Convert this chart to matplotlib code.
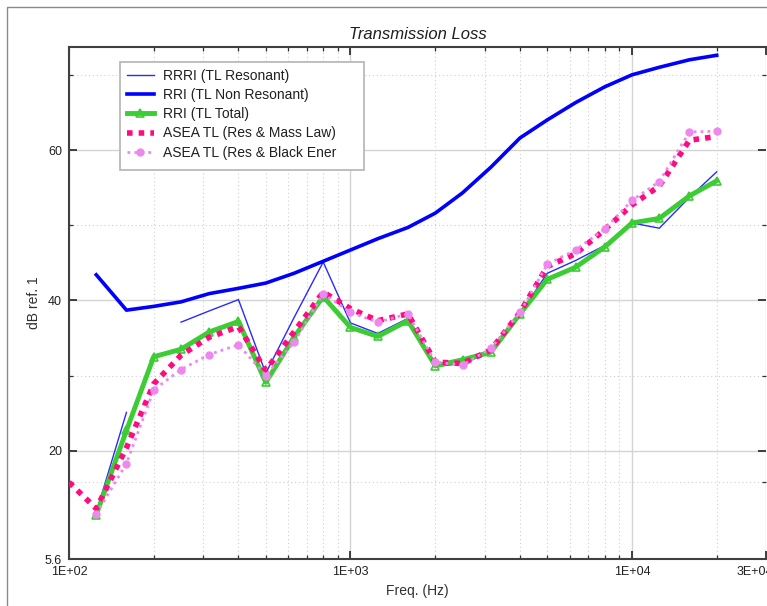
import numpy as np
import matplotlib
matplotlib.use("Agg")
import matplotlib.pyplot as plt
from matplotlib.patches import Rectangle
from matplotlib.ticker import FixedLocator, NullFormatter, FixedFormatter
from matplotlib.transforms import ScaledTranslation

plt.rcParams['font.family'] = ['Liberation Sans', 'DejaVu Sans']

# One-third octave band centre frequencies (Hz)
freq = [100, 125, 160, 200, 250, 315, 400, 500, 630, 800, 1000, 1250, 1600,
        2000, 2500, 3150, 4000, 5000, 6300, 8000, 10000, 12500, 16000, 20000]

nan = np.nan
rrri_resonant = [nan, 11.8, 25.1, nan, 37.1, 38.6, 40.1, 30.3, 37.7, 45.1, 37.0, 35.6,
                 37.6, 31.2, 31.6, 33.1, 38.2, 43.6, 45.3, 47.3, 50.3, 49.6, 53.7, 57.1]
rri_non_resonant = [nan, 43.4, 38.7, 39.2, 39.8, 40.9, 41.6, 42.3, 43.6, 45.2, 46.7, 48.2,
                    49.7, 51.6, 54.3, 57.7, 61.6, 64.0, 66.3, 68.4, 70.0, 71.0, 72.0, 72.6]
rri_total = [nan, 11.5, 22.7, 32.5, 33.5, 35.8, 37.2, 29.1, 35.1, 40.5, 36.4, 35.2,
             37.3, 31.3, 32.1, 33.1, 38.2, 42.8, 44.4, 47.1, 50.3, 50.9, 53.9, 55.9]
asea_mass_law = [15.8, 12.3, 20.4, 28.9, 32.7, 35.1, 36.5, 30.7, 35.8, 41.1, 38.9, 37.3,
                 38.2, 31.8, 31.6, 33.4, 38.4, 44.5, 46.2, 49.4, 52.7, 55.2, 61.3, 61.8]
asea_black_ener = [nan, 11.6, 18.3, 28.1, 30.8, 32.8, 34.1, 30.0, 34.4, 40.9, 38.4, 37.1,
                   38.2, 31.8, 31.4, 33.6, 38.4, 44.8, 46.7, 49.5, 53.3, 55.8, 62.4, 62.5]

series_labels = ["RRRI (TL Resonant)", "RRI (TL Non Resonant)", "RRI (TL Total)",
                 "ASEA TL (Res & Mass Law)", "ASEA TL (Res & Black Ener"]

x_major = [100, 1000, 10000, 30000]
x_major_labels = ["1E+02", "1E+03", "1E+04", "3E+04"]
y_major = [5.6, 20, 40, 60]
y_major_labels = ["5.6", "20", "40", "60"]
y_minor = [15.9, 30, 50, 70]

W, H = 767, 606
fig = plt.figure(figsize=(W / 100, H / 100), dpi=100)
fig.patch.set_facecolor("white")

# outer panel frame
fig.add_artist(Rectangle((7 / W, -0.05), 1.2, 1 - 7 / H + 0.05, transform=fig.transFigure,
                         fill=False, edgecolor="#8a8a8a", linewidth=1.0))

ax_l, ax_r, ax_t, ax_b = 69, 766.3, 47, 559
ax = fig.add_axes([ax_l / W, (H - ax_b) / H, (ax_r - ax_l) / W, (ax_b - ax_t) / H])
ax.set_xscale("log")
ax.set_xlim(100, 30000)
ax.set_ylim(5.6, 73.7)

ax.plot(freq, rrri_resonant, color="#2a2aff", lw=1.0, label=series_labels[0], zorder=3)
ax.plot(freq, rri_non_resonant, color="#0000ff", lw=2.6, label=series_labels[1], zorder=3)
ax.plot(freq, rri_total, color="#3ccc33", lw=3.5, marker="^", ms=6, mfc="none",
        mec="#3ccc33", mew=1.2, label=series_labels[2], zorder=4)
ax.plot(freq, asea_mass_law, color="#ff0a80", lw=4.0, linestyle=(0, (1, 1.1)),
        label=series_labels[3], zorder=5)
ax.plot(freq, asea_black_ener, color="#ee88ee", lw=2.0, linestyle=(0, (1, 1.5)),
        marker="o", ms=5, mec="#ee88ee", mfc="#ee88ee", label=series_labels[4], zorder=5)

# ticks
ax.xaxis.set_major_locator(FixedLocator(x_major))
ax.xaxis.set_major_formatter(FixedFormatter(x_major_labels))
minor_x = [m * d for d in (100, 1000, 10000) for m in range(2, 10) if m * d < 30000]
ax.xaxis.set_minor_locator(FixedLocator(minor_x))
ax.xaxis.set_minor_formatter(NullFormatter())
ax.yaxis.set_major_locator(FixedLocator(y_major))
ax.yaxis.set_major_formatter(FixedFormatter(y_major_labels))
ax.yaxis.set_minor_locator(FixedLocator(y_minor))

ax.tick_params(which="both", direction="in", top=True, right=True, colors="#303030",
               labelcolor="#202020", labelsize=9)
ax.tick_params(which="major", length=6, width=1.3, pad=5)
ax.tick_params(which="minor", length=3, width=0.9)

# grids
ax.grid(True, which="major", color="#d4d4d4", lw=1.0, linestyle="-", zorder=0)
ax.grid(True, which="minor", color="#cfcfcf", lw=0.8, linestyle=(0, (1, 2.5)), zorder=0)
ax.set_axisbelow(True)

for side in ("left", "bottom", "top"):
    ax.spines[side].set_color("#404040")
    ax.spines[side].set_linewidth(1.5)
ax.spines["right"].set_visible(False)

# shift last x label inwards so it stays mostly on the panel
last = ax.get_xticklabels()[-1]
last.set_transform(last.get_transform() + ScaledTranslation(-11 / 100, 0, fig.dpi_scale_trans))

ax.set_title("Transmission Loss", fontsize=12, style="italic", color="#202020", pad=6)
ax.set_xlabel("Freq. (Hz)", fontsize=10, color="#303030", labelpad=4)
ax.set_ylabel("dB ref. 1", fontsize=10, color="#303030", labelpad=3)

# legend box
lx0, lx1, ly0, ly1 = 120, 364, 62, 170
aw, ah = ax_r - ax_l, ax_b - ax_t
ax.add_patch(Rectangle(((lx0 - ax_l) / aw, (ax_b - ly1) / ah), (lx1 - lx0) / aw, (ly1 - ly0) / ah,
                       transform=ax.transAxes, facecolor="white", edgecolor="#b4b4b4",
                       lw=1.2, zorder=6))
leg = ax.legend(loc="upper left", bbox_to_anchor=((lx0 - ax_l) / aw, (ax_b - ly0) / ah),
                frameon=False, fontsize=10, handlelength=1.95, handletextpad=0.65,
                labelspacing=0.37, borderpad=0.5, borderaxespad=0.0, numpoints=1)
leg.set_zorder(7)
for t in leg.get_texts():
    t.set_color("#202020")

fig.savefig("out.png", dpi=100, facecolor="white")
